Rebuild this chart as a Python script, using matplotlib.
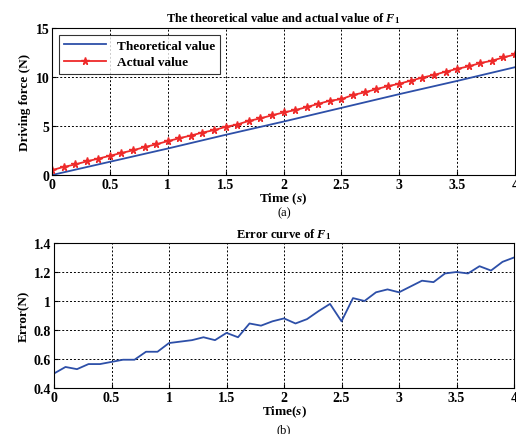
import numpy as np
import matplotlib.pyplot as plt

plt.rcParams["font.family"] = ["Liberation Serif", "DejaVu Serif"]
plt.rcParams["font.weight"] = "bold"
plt.rcParams["mathtext.fontset"] = "custom"
plt.rcParams["mathtext.it"] = "Liberation Serif:italic:bold"
plt.rcParams["mathtext.rm"] = "Liberation Serif:bold"

# sample times (0.1 s steps)
t = np.round(np.arange(0, 4.01, 0.1), 1)

# theoretical driving force, sampled every 0.5 s
t_theo = [0, 0.5, 1.0, 1.5, 2.0, 2.5, 3.0, 3.5, 4.0]
f_theo = [0, 1.35, 2.7, 4.1, 5.45, 6.85, 8.25, 9.6, 11.0]

# measured driving force
f_actual = [0.50, 0.82, 1.08, 1.39, 1.67, 1.96, 2.25, 2.52, 2.85, 3.13,
            3.46, 3.75, 4.03, 4.33, 4.58, 4.91, 5.15, 5.52, 5.78, 6.09,
            6.38, 6.62, 6.93, 7.26, 7.58, 7.74, 8.17, 8.43, 8.76, 9.06,
            9.31, 9.63, 9.94, 10.21, 10.54, 10.83, 11.09, 11.42, 11.66, 12.0,
            12.3]

# error between actual and theoretical
err = [0.50, 0.545, 0.53, 0.565, 0.565, 0.58, 0.595, 0.595, 0.65, 0.65,
       0.71, 0.72, 0.73, 0.75, 0.73, 0.78, 0.75, 0.845, 0.83, 0.86,
       0.88, 0.845, 0.875, 0.93, 0.98, 0.86, 1.02, 1.0, 1.06, 1.08,
       1.06, 1.10, 1.14, 1.13, 1.19, 1.20, 1.19, 1.24, 1.21, 1.27,
       1.30]

fig = plt.figure(figsize=(5.16, 4.35), dpi=100)
W, H = 516, 435

def add_ax(l, t_, r, b):
    return fig.add_axes([l / W, 1 - b / H, (r - l) / W, (b - t_) / H])

def style(ax):
    ax.grid(True, color="black", linestyle=(0, (2, 2)), linewidth=0.7)
    ax.tick_params(direction="in", labelsize=10, length=3, pad=2)
    for lab in ax.get_xticklabels() + ax.get_yticklabels():
        lab.set_fontweight("bold")
    for s in ax.spines.values():
        s.set_linewidth(0.8)

blue = "#2d4fa8"
red = "#ee2a2a"

# (a) driving force
ax1 = add_ax(52, 29, 515, 176)
ax1.plot(t_theo, f_theo, color=blue, lw=1.3, label="Theoretical value")
ax1.plot(t, f_actual, color=red, lw=1.3, marker="*", ms=5.5,
         label="Actual value")
ax1.set_xlim(0, 4)
ax1.set_ylim(0, 15)
ax1.set_xticks(np.arange(0, 4.01, 0.5))
ax1.set_xticklabels(["0", "0.5", "1", "1.5", "2", "2.5", "3", "3.5", "4"])
ax1.set_yticks([0, 5, 10, 15])
style(ax1)
ax1.set_title(r"The theoretical value and actual value of $F_1$",
              fontsize=9, fontweight="bold", pad=5)
ax1.set_xlabel(r"Time ($s$)", fontsize=9.5, fontweight="bold", labelpad=0)
ax1.set_ylabel("Driving force (N)", fontsize=9.5, fontweight="bold", labelpad=3)
leg = ax1.legend(loc="upper left", fontsize=9.5, frameon=True, fancybox=False,
                 edgecolor="black", borderaxespad=0.5, handlelength=3.2,
                 labelspacing=0.3)
leg.get_frame().set_linewidth(0.8)
for txt in leg.get_texts():
    txt.set_fontweight("bold")
fig.text(284 / W, 1 - 213 / H, "(a)", ha="center", va="center", fontsize=9,
         fontweight="normal")

# (b) error curve
ax2 = add_ax(54, 244, 514, 389)
ax2.plot(t, err, color=blue, lw=1.3)
ax2.set_xlim(0, 4)
ax2.set_ylim(0.4, 1.4)
ax2.set_xticks(np.arange(0, 4.01, 0.5))
ax2.set_xticklabels(["0", "0.5", "1", "1.5", "2", "2.5", "3", "3.5", "4"])
ax2.set_yticks([0.4, 0.6, 0.8, 1.0, 1.2, 1.4])
ax2.set_yticklabels(["0.4", "0.6", "0.8", "1", "1.2", "1.4"])
style(ax2)
ax2.set_title(r"Error curve of $F_1$", fontsize=9, fontweight="bold", pad=4)
ax2.set_xlabel(r"Time($s$)", fontsize=9.5, fontweight="bold", labelpad=0)
ax2.set_ylabel("Error(N)", fontsize=9.5, fontweight="bold", labelpad=3)
fig.text(284 / W, 1 - 430 / H, "(b)", ha="center", va="center", fontsize=9,
         fontweight="normal")

fig.savefig("out.png", dpi=100)
